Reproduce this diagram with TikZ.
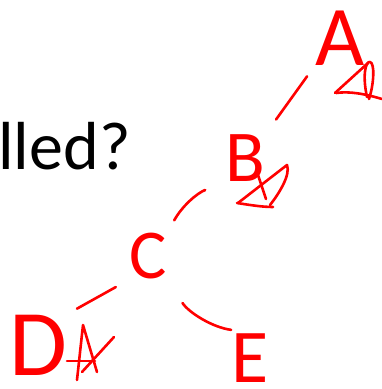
\documentclass[tikz,border=0pt]{standalone}
\usepackage{fontspec}
\setmainfont{Carlito}
\usetikzlibrary{calc}
\definecolor{ink}{HTML}{FF0000}
\tikzset{
  every picture/.style={line width=2.6pt},
  letter/.style={text=ink, inner sep=0pt, font=\fontsize{#1}{#1}\selectfont},
  link/.style={draw=ink, line cap=round},
  scribble/.style={draw=ink, line cap=round, line join=round},
  title/.style={font=\fontsize{68}{68}\selectfont, inner sep=0pt, anchor=base west},
}

\begin{document}
\begin{tikzpicture}[x=1pt, y=1pt]
  \useasboundingbox (0,0) rectangle (382,389);
  \node[title] (question) at (-3,219) {lled?};
  % tree
  \node[letter=85] (A) at (340,351) {A};
  \node[letter=73] (B) at (245,231) {B};
  \node[letter=70] (C) at (148,133) {C};
  \node[letter=94] (D) at (38,44) {D};
  \node[letter=76] (E) at (250,31) {E};
  \draw[link, shorten <=12pt, shorten >=17pt] (A.south west) -- (B.north east);
  \draw[link, shorten <=20pt, shorten >=13pt] (B.south west) to[bend right=20] (C.north east);
  \draw[link, shorten <=14pt, shorten >=10pt] (C.south west) -- (D.north east);
  \draw[link, shorten <=27pt, shorten >=19pt] (C.south east) to[bend right=25] (E.north);
  % marks beside the letters
  \draw[scribble] (335,296) -- (368,326);
  \draw[scribble] (367,292) .. controls (362,315) and (366,328) .. (370,327) .. controls (375,326) and (374,305) .. (369,290);
  \draw[scribble] (336,296) .. controls (350,298) and (365,295) .. (382,290);
  \draw[scribble] (257,217) -- (266,190);
  \draw[scribble] (238,186) -- (287,224) .. controls (291,214) and (278,194) .. (270,184);
  \draw[scribble] (237,186) .. controls (250,184) and (262,182) .. (273,182);
  \draw[scribble] (77,9) -- (83,64) -- (97,17);
  \draw[scribble] (67,28) -- (95,28);
  \draw[scribble] (114,52) -- (82,17);
\end{tikzpicture}
\end{document}
